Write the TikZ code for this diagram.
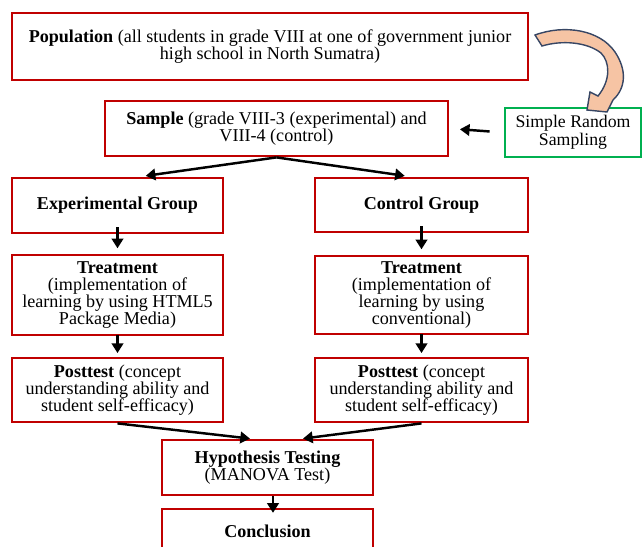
\documentclass[tikz,border=0pt]{standalone}
\usepackage{fontspec}
\setmainfont{Liberation Serif}
\usetikzlibrary{arrows.meta}
\definecolor{boxred}{RGB}{192,0,0}
\definecolor{boxgreen}{RGB}{0,176,80}
\definecolor{peach}{RGB}{246,196,164}
\definecolor{slate}{RGB}{55,70,100}
\tikzset{
  box/.style={draw=boxred,line width=1.6pt,align=center,inner sep=2pt,
    font=\fontsize{10.3}{9.6}\selectfont},
  gbox/.style={box,draw=boxgreen,font=\fontsize{10.1}{10.4}\selectfont},
  arr/.style={-{Triangle[length=5.5pt,width=6.5pt]},line width=1.4pt,black},
}

\begin{document}
\begin{tikzpicture}[x=0.02cm,y=-0.02cm]
  \useasboundingbox (0,0) rectangle (643,547);
  \clip (0,0) rectangle (643,547);

  \node[box,minimum width=10.32cm,minimum height=1.34cm] (pop) at (270,46.5)
    {\textbf{Population} (all students in grade VIII at one of government junior\\ high school in North Sumatra)};
  \node[box,minimum width=6.86cm,minimum height=1.1cm] (sample) at (276.5,128.5)
    {\textbf{Sample} (grade VIII-3 (experimental) and\\ VIII-4 (control)};
  \node[gbox,minimum width=2.72cm,minimum height=0.98cm] (srs) at (573,132.5)
    {Simple Random\\ Sampling};

  \node[box,minimum width=4.22cm,minimum height=1.1cm] (exp) at (117.5,205.5)
    {\textbf{Experimental Group}};
  \node[box,minimum width=4.26cm,minimum height=1.08cm] (ctrl) at (421.5,205)
    {\textbf{Control Group}};

  \node[box,minimum width=4.22cm,minimum height=1.6cm] (treatL) at (117.5,295)
    {\textbf{Treatment}\\ (implementation of\\ learning by using HTML5\\ Package Media)};
  \node[box,minimum width=4.26cm,minimum height=1.56cm] (treatR) at (421.5,295)
    {\textbf{Treatment}\\ (implementation of\\ learning by using\\ conventional)};

  \node[box,minimum width=4.22cm,minimum height=1.28cm] (postL) at (117.5,390)
    {\textbf{Posttest} (concept\\ understanding ability and\\ student self-efficacy)};
  \node[box,minimum width=4.26cm,minimum height=1.28cm] (postR) at (421.5,390)
    {\textbf{Posttest} (concept\\ understanding ability and\\ student self-efficacy)};

  \node[box,minimum width=4.22cm,minimum height=1.1cm] (hyp) at (267.5,467.5)
    {\textbf{Hypothesis Testing}\\ (MANOVA Test)};
  \node[box,minimum width=4.22cm,minimum height=0.88cm] (concl) at (267.5,531)
    {\textbf{Conclusion}};

  \draw[arr,shorten <=8pt,shorten >=6pt] (srs.west) -- (sample.east);
  \draw[arr,shorten >=3pt] (sample.south) -- ([xshift=0.46cm]exp.north);
  \draw[arr,shorten >=3pt] (sample.south) -- ([xshift=-0.23cm]ctrl.north);
  \draw[arr,shorten <=-4pt,shorten >=3pt] (exp.south) -- (treatL.north);
  \draw[arr,shorten <=-4pt,shorten >=3pt] (ctrl.south) -- (treatR.north);
  \draw[arr,shorten <=-1pt,shorten >=2pt] (treatL.south) -- (postL.north);
  \draw[arr,shorten <=-1pt,shorten >=2pt] (treatR.south) -- (postR.north);
  \draw[arr] (postL.south) -- ([xshift=-0.35cm]hyp.north);
  \draw[arr] (postR.south) -- ([xshift=0.71cm]hyp.north);
  \draw[arr,shorten >=-3pt] ([xshift=0.11cm]hyp.south) -- ([xshift=0.11cm]concl.north);

  \draw[slate,line width=0.8pt,fill=peach]
    (535,35) .. controls (565,24) and (600,30) .. (615,52)
    .. controls (627,70) and (626,88) .. (613,100)
    -- (607,112) -- (587,110) -- (590,92) -- (598,96)
    .. controls (611,80) and (610,62) .. (601,53)
    .. controls (587,42) and (562,40) .. (542,46) -- cycle;
\end{tikzpicture}
\end{document}
